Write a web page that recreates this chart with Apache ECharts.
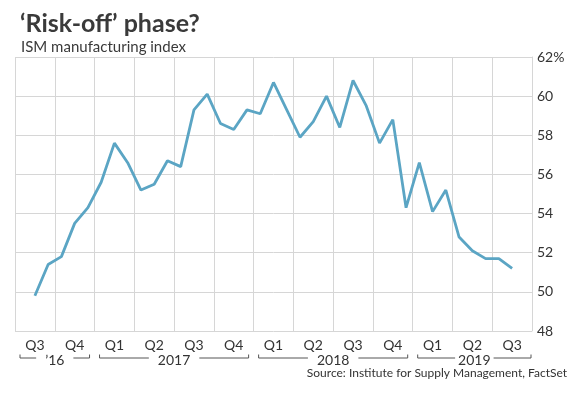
<!DOCTYPE html>
<html><head><meta charset="utf-8">
<script src="https://cdn.jsdelivr.net/npm/echarts@6/dist/echarts.min.js"></script>
<style>html,body{margin:0;padding:0;background:#fff}#c{width:569px;height:398px}</style>
</head><body><div id="c"></div>
<script>
const quarters = ['Q3 2016','Q4 2016','Q1 2017','Q2 2017','Q3 2017','Q4 2017','Q1 2018','Q2 2018','Q3 2018','Q4 2018','Q1 2019','Q2 2019','Q3 2019'];
const months = ['Jul 16','Aug 16','Sep 16','Oct 16','Nov 16','Dec 16',
  'Jan 17','Feb 17','Mar 17','Apr 17','May 17','Jun 17','Jul 17','Aug 17','Sep 17','Oct 17','Nov 17','Dec 17',
  'Jan 18','Feb 18','Mar 18','Apr 18','May 18','Jun 18','Jul 18','Aug 18','Sep 18','Oct 18','Nov 18','Dec 18',
  'Jan 19','Feb 19','Mar 19','Apr 19','May 19','Jun 19','Jul 19','Aug 19','Sep 19'];
const ism = [null, 49.8, 51.4, 51.8, 53.5, 54.3,
  55.6, 57.6, 56.6, 55.2, 55.5, 56.7, 56.4, 59.3, 60.1, 58.6, 58.3, 59.3,
  59.1, 60.7, 59.3, 57.9, 58.7, 60.0, 58.4, 60.8, 59.5, 57.6, 58.8, 54.3,
  56.6, 54.1, 55.2, 52.8, 52.1, 51.7, 51.7, 51.2, null];
const yearLabels = ["\u201916", '2017', '2018', '2019'];
const yearFirstQ = [0, 2, 6, 10];
const yearLastQ = [1, 5, 9, 12];

const FONT = 'Lato, "Open Sans", sans-serif';
const chart = echarts.init(document.getElementById('c'), null, {renderer: 'canvas'});
const grid = {left: 15, right: 37, top: 57, bottom: 67};
chart.setOption({
  animation: false,
  backgroundColor: '#fff',
  title: [
    {text: '\u2018Risk-off\u2019 phase?', left: 15, top: 6,
     textStyle: {fontFamily: FONT, fontSize: 25, fontWeight: 'bold', color: '#3a3a3a'}},
    {text: 'ISM manufacturing index', left: 16, top: 35,
     textStyle: {fontFamily: FONT, fontSize: 15, fontWeight: 'normal', color: '#3a3a3a'}}
  ],
  grid: grid,
  xAxis: [
    {type: 'category', data: quarters, boundaryGap: true, position: 'bottom',
     axisLine: {show: false}, axisTick: {show: false},
     axisLabel: {interval: 0, margin: 7, fontFamily: FONT, fontSize: 14, color: '#333',
       formatter: v => v.split(' ')[0]},
     splitLine: {show: true, interval: 0, lineStyle: {color: '#d6d6d6', width: 1}}},
    {type: 'category', data: months, boundaryGap: true, show: false}
  ],
  yAxis: {type: 'value', min: 48, max: 62, interval: 2, position: 'right',
    axisLine: {show: true, lineStyle: {color: '#d6d6d6'}}, axisTick: {show: false},
    axisLabel: {margin: 5, fontFamily: FONT, fontSize: 14, color: '#333',
      formatter: v => v === 62 ? '62%' : String(v)},
    splitLine: {show: true, lineStyle: {color: '#d6d6d6', width: 1}}},
  series: [{type: 'line', xAxisIndex: 1, data: ism, symbol: 'none', silent: true,
    lineStyle: {color: '#5ba5c4', width: 2.8}, connectNulls: false}]
});

// year brackets
const c0 = chart.convertToPixel({xAxisIndex: 0}, quarters[0]);
const c1 = chart.convertToPixel({xAxisIndex: 0}, quarters[1]);
const bw = c1 - c0;
const yLine = 358, yTick = 354.5, inset = 5;
const g = [];
yearLabels.forEach((lab, i) => {
  const x0 = chart.convertToPixel({xAxisIndex: 0}, quarters[yearFirstQ[i]]) - bw / 2 + inset;
  let x1 = chart.convertToPixel({xAxisIndex: 0}, quarters[yearLastQ[i]]) + bw / 2 - inset;
  if (i === yearLabels.length - 1) x1 += 4;
  const cx = (x0 + x1) / 2;
  g.push({type: 'polyline', shape: {points: [[x0, yTick], [x0, yLine], [x1, yLine], [x1, yTick]]},
    style: {stroke: '#555', lineWidth: 1, fill: null}, silent: true});
  g.push({type: 'text', x: cx, y: yLine + 2.5, silent: true, z: 10,
    style: {text: lab, fontFamily: FONT, fontSize: 14, fill: '#333', align: 'center', verticalAlign: 'middle',
      backgroundColor: '#fff', padding: [0, i === yearLabels.length - 1 ? 3 : 9]}});
});
g.push({type: 'text', right: 2, top: 367, silent: true,
  style: {text: 'Source: Institute for Supply Management, FactSet', fontFamily: FONT, fontSize: 12, fill: '#333'}});
chart.setOption({graphic: g});
</script>
</body></html>
